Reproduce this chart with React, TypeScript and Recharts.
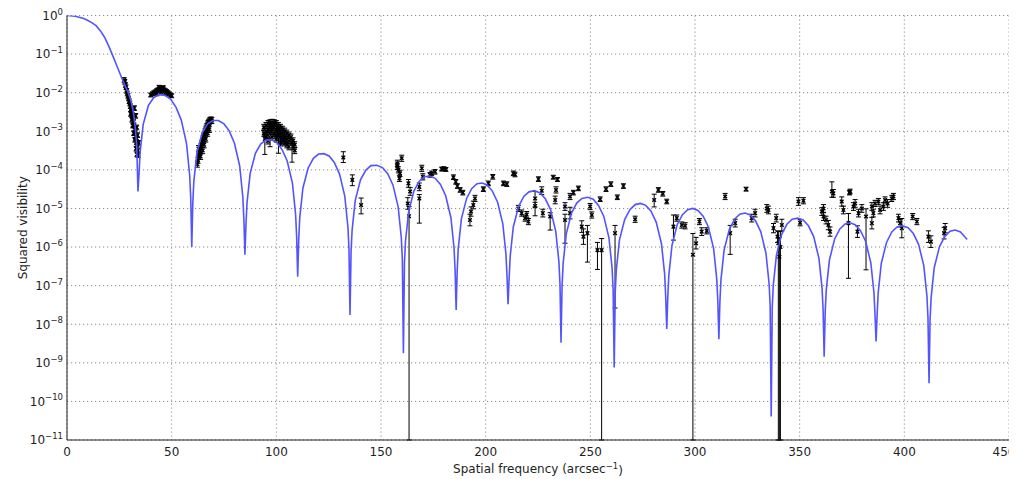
import React from 'react';
import { ScatterChart, Scatter, XAxis, YAxis, CartesianGrid, ErrorBar } from 'recharts';

// ---------- axes ----------
const xTicks = [0, 50, 100, 150, 200, 250, 300, 350, 400, 450];
const yTickExponents = [-11, -10, -9, -8, -7, -6, -5, -4, -3, -2, -1, 0];
const minorMantissas = [2, 3, 4, 5, 6, 7, 8, 9];
const xLabelMain = 'Spatial frequency (arcsec';
const xLabelSup = '\u22121';
const yLabelText = 'Squared visibility';

// ---------- model curve: [spatial frequency, log10(squared visibility)] ----------
const curveMainLobe = [[0,0],[4,-0.02],[8,-0.08],[10,-0.13],[12,-0.19],[14,-0.27],[16,-0.40],[18,-0.57],[20,-0.80],[22,-1.06],[24,-1.33],[26,-1.60],[28,-1.85],[29.3,-2.0],[30.5,-2.2],[31.7,-2.5],[32.5,-2.85],[33.3,-3.35],[33.9,-4.56]];
const curveLobes2to5 = [
  [34.4,-4.12],[34.9,-3.56],[36.4,-2.82],[38.9,-2.33],[41.4,-2.13],[43.9,-2.05],[46.75,-2.07],[49.6,-2.17],[52.1,-2.38],[54.6,-2.71],[57.1,-3.32],[58.6,-4.14],[59.1,-4.72],[59.6,-6.0],
  [60.1,-4.85],[60.6,-4.29],[62.1,-3.54],[64.6,-3.04],[67.1,-2.81],[69.6,-2.72],[72.3,-2.72],[75.0,-2.81],[77.5,-2.99],[80.0,-3.31],[82.5,-3.90],[84.0,-4.71],[84.5,-5.29],[85.0,-6.2],
  [85.5,-5.41],[86.0,-4.85],[87.5,-4.09],[90.0,-3.57],[92.5,-3.33],[95.0,-3.23],[97.6,-3.22],[100.2,-3.29],[102.7,-3.47],[105.2,-3.77],[107.7,-4.35],[109.2,-5.15],[109.7,-5.73],[110.2,-6.77],
  [110.7,-5.80],[111.2,-5.23],[112.7,-4.47],[115.2,-3.95],[117.7,-3.70],[120.2,-3.59],[122.7,-3.58],[125.2,-3.64],[127.7,-3.81],[130.2,-4.11],[132.7,-4.68],[134.2,-5.48],[134.7,-6.05],[135.2,-7.76],
];
const curveLobes6to9 = [
  [135.7,-6.12],[136.2,-5.56],[137.7,-4.79],[140.2,-4.26],[142.7,-4.01],[145.2,-3.89],[147.95,-3.88],[150.7,-3.94],[153.2,-4.10],[155.7,-4.39],[158.2,-4.96],[159.7,-5.76],[160.2,-6.33],[160.7,-8.75],
  [161.2,-6.42],[161.7,-5.85],[163.2,-5.09],[165.7,-4.55],[168.2,-4.30],[170.7,-4.18],[173.3,-4.16],[175.9,-4.22],[178.4,-4.38],[180.9,-4.67],[183.4,-5.24],[184.9,-6.03],[185.4,-6.60],[185.9,-7.63],
  [186.4,-6.61],[186.9,-6.04],[188.4,-5.27],[190.9,-4.74],[193.4,-4.48],[195.9,-4.36],[198.3,-4.34],[200.7,-4.39],[203.2,-4.55],[205.7,-4.84],[208.2,-5.40],[209.7,-6.19],[210.2,-6.76],[210.7,-7.48],
  [211.2,-6.82],[211.7,-6.25],[213.2,-5.48],[215.7,-4.95],[218.2,-4.69],[220.7,-4.57],[223.35,-4.54],[226.0,-4.60],[228.5,-4.75],[231.0,-5.03],[233.5,-5.60],[235.0,-6.39],[235.5,-6.96],[236.0,-8.48],
];
const curveLobes10to13 = [
  [236.5,-7.0],[237.0,-6.43],[238.5,-5.66],[241.0,-5.12],[243.5,-4.86],[246.0,-4.74],[248.7,-4.71],[251.4,-4.76],[253.9,-4.92],[256.4,-5.20],[258.9,-5.76],[260.4,-6.55],[260.9,-7.12],[261.4,-9.12],
  [261.9,-7.16],[262.4,-6.60],[263.9,-5.82],[266.4,-5.29],[268.9,-5.03],[271.4,-4.90],[273.95,-4.87],[276.5,-4.92],[279.0,-5.07],[281.5,-5.36],[284.0,-5.92],[285.5,-6.70],[286.0,-7.28],[286.5,-8.12],
  [287.0,-7.30],[287.5,-6.73],[289.0,-5.96],[291.5,-5.42],[294.0,-5.16],[296.5,-5.03],[298.95,-5.0],[301.4,-5.05],[303.9,-5.20],[306.4,-5.48],[308.9,-6.04],[310.4,-6.83],[310.9,-7.40],[311.4,-8.39],
  [311.9,-7.42],[312.4,-6.85],[313.9,-6.08],[316.4,-5.54],[318.9,-5.28],[321.4,-5.15],[323.9,-5.12],[326.4,-5.17],[328.9,-5.32],[331.4,-5.60],[333.9,-6.16],[335.4,-6.95],[335.9,-7.52],[336.4,-10.39],
];
const curveLobes14to17 = [
  [336.9,-7.56],[337.4,-6.99],[338.9,-6.21],[341.4,-5.67],[343.9,-5.41],[346.4,-5.28],[349.05,-5.25],[351.7,-5.30],[354.2,-5.45],[356.7,-5.73],[359.2,-6.29],[360.7,-7.07],[361.2,-7.64],[361.7,-8.84],
  [362.2,-7.68],[362.7,-7.11],[364.2,-6.34],[366.7,-5.79],[369.2,-5.53],[371.7,-5.40],[374.1,-5.37],[376.5,-5.42],[379.0,-5.57],[381.5,-5.85],[384.0,-6.41],[385.5,-7.19],[386.0,-7.76],[386.5,-8.45],
  [387.0,-7.76],[387.5,-7.19],[389.0,-6.42],[391.5,-5.88],[394.0,-5.61],[396.5,-5.48],[399.15,-5.45],[401.8,-5.50],[404.3,-5.65],[406.8,-5.93],[409.3,-6.48],[410.8,-7.27],[411.3,-7.84],[411.8,-9.53],
  [412.3,-7.87],[412.8,-7.31],[414.3,-6.53],[416.8,-5.99],[419.3,-5.73],[421.8,-5.59],[424.3,-5.56],[426.8,-5.61],[429.3,-5.76],[430.0,-5.80],
];

// ---------- measurements: [spatial frequency, log10(V2), error below (dex), error above (dex)] ----------
const obsFirstNull = [
  [27.3,-1.67,0.06,0.06],[27.6,-1.72,0.06,0.06],[27.9,-1.80,0.06,0.06],[28.2,-1.86,0.06,0.06],[28.5,-1.95,0.06,0.06],[28.8,-2.02,0.06,0.06],
  [29.1,-2.08,0.06,0.06],[29.4,-2.15,0.06,0.06],[29.7,-2.22,0.06,0.06],[30.0,-2.28,0.06,0.06],[30.3,-2.35,0.06,0.06],[30.6,-2.42,0.06,0.06],
  [30.4,-2.55,0.06,0.06],[30.9,-2.50,0.06,0.06],[31.2,-2.58,0.06,0.06],[31.0,-2.70,0.06,0.06],[31.5,-2.65,0.06,0.06],[31.8,-2.75,0.06,0.06],
  [31.4,-2.85,0.06,0.06],[32.0,-2.85,0.06,0.06],[32.3,-2.95,0.06,0.06],[31.9,-3.05,0.06,0.06],[32.6,-3.05,0.06,0.06],[32.9,-3.15,0.06,0.06],
  [32.4,-3.22,0.06,0.06],[33.2,-3.28,0.06,0.06],[33.5,-3.35,0.06,0.06],[33.0,-3.45,0.06,0.06],[33.8,-3.50,0.06,0.06],[33.4,-3.60,0.06,0.06],
  [34.0,-3.62,0.06,0.06],[32.8,-2.60,0.06,0.06],[33.3,-2.90,0.06,0.06],[33.7,-3.10,0.06,0.06],[34.2,-3.30,0.06,0.06],[32.2,-2.40,0.06,0.06],
];
const obsSecondLobe = [
  [40.0,-2.06,0.05,0.05],[40.8,-2.03,0.05,0.05],[41.5,-2.00,0.05,0.05],[42.2,-1.98,0.05,0.05],[42.8,-1.95,0.05,0.05],[43.4,-1.93,0.05,0.05],
  [44.0,-1.92,0.05,0.05],[44.6,-1.90,0.05,0.05],[45.2,-1.90,0.05,0.05],[45.8,-1.91,0.05,0.05],[46.4,-1.93,0.05,0.05],[47.0,-1.95,0.05,0.05],
  [47.6,-1.97,0.05,0.05],[48.2,-2.00,0.05,0.05],[48.8,-2.03,0.05,0.05],[49.5,-2.06,0.05,0.05],[50.0,-2.08,0.05,0.05],[43.0,-2.03,0.05,0.05],
  [45.0,-1.98,0.05,0.05],[47.0,-2.02,0.05,0.05],[44.0,-1.86,0.05,0.05],[46.0,-1.87,0.05,0.05],
];
const obsThirdLobe = [
  [62.3,-3.85,0.08,0.08],[62.6,-3.75,0.08,0.08],[62.9,-3.65,0.08,0.08],[63.2,-3.60,0.08,0.08],[63.5,-3.52,0.08,0.08],[63.8,-3.45,0.08,0.08],
  [64.1,-3.40,0.08,0.08],[64.4,-3.33,0.08,0.08],[64.7,-3.27,0.08,0.08],[65.0,-3.20,0.08,0.08],[65.3,-3.13,0.08,0.08],[65.6,-3.08,0.08,0.08],
  [65.9,-3.02,0.08,0.08],[66.2,-2.97,0.08,0.08],[66.5,-2.92,0.08,0.08],[66.8,-2.88,0.08,0.08],[67.1,-2.84,0.08,0.08],[67.4,-2.80,0.08,0.08],
  [67.7,-2.77,0.08,0.08],[68.0,-2.74,0.08,0.08],[68.4,-2.72,0.08,0.08],[68.8,-2.71,0.08,0.08],[69.2,-2.72,0.08,0.08],[63.8,-3.65,0.08,0.08],
  [64.8,-3.50,0.08,0.08],[65.5,-3.35,0.08,0.08],[66.3,-3.20,0.08,0.08],[67.2,-3.05,0.08,0.08],[68.0,-2.95,0.08,0.08],[62.8,-3.45,0.08,0.08],
];
const obsFourthLobe = [
  [94,-2.90,0.08,0.08],[94,-3.05,0.08,0.08],[94.5,-3.20,0.40,0.08],[95,-2.85,0.08,0.08],[95,-3.00,0.08,0.08],[95,-3.15,0.08,0.08],
  [96,-2.80,0.08,0.08],[96,-2.95,0.08,0.08],[96,-3.10,0.08,0.08],[96,-3.25,0.08,0.08],[97,-2.78,0.08,0.08],[97,-2.92,0.08,0.08],
  [97,-3.05,0.35,0.08],[98,-2.77,0.08,0.08],[98,-2.90,0.08,0.08],[98,-3.00,0.08,0.08],[98,-3.15,0.08,0.08],[99,-2.78,0.08,0.08],
  [99,-2.90,0.08,0.08],[99,-3.05,0.08,0.08],[100,-2.80,0.08,0.08],[100,-2.95,0.08,0.08],[100,-3.10,0.08,0.08],[100,-3.20,0.08,0.08],
  [101,-2.85,0.08,0.08],[101,-2.98,0.08,0.08],[101,-3.12,0.45,0.08],[102,-2.90,0.08,0.08],[102,-3.00,0.08,0.08],[102,-3.15,0.08,0.08],
  [102,-3.30,0.08,0.08],[103,-2.95,0.08,0.08],[103,-3.10,0.08,0.08],[103,-3.25,0.08,0.08],[104,-3.00,0.08,0.08],[104,-3.15,0.08,0.08],
  [104,-3.30,0.08,0.08],[105,-3.05,0.08,0.08],[105,-3.20,0.08,0.08],[105,-3.35,0.08,0.08],[106,-3.10,0.08,0.08],[106,-3.25,0.08,0.08],
  [106,-3.40,0.08,0.08],[107,-3.15,0.08,0.08],[107.5,-3.30,0.50,0.08],[108,-3.25,0.08,0.08],[108,-3.40,0.08,0.08],[108.8,-3.35,0.08,0.08],
  [108.8,-3.50,0.08,0.08],
];
const obsMidFrequencies = [
  [132.0,-3.68,0.13,0.15],[136.3,-4.26,0.15,0.13],[140.5,-4.91,0.23,0.18],
  [157.8,-3.83,0.08,0.08],[157.8,-3.91,0.08,0.08],[158.3,-4.00,0.08,0.08],[159.1,-4.09,0.08,0.08],[158.8,-4.22,0.08,0.08],[159.9,-3.70,0.08,0.08],
  [163.1,-4.35,0.10,0.10],[163.9,-4.56,0.10,0.10],[162.8,-4.87,0.15,0.15],[163.4,-5.20,5.80,0.25],
  [169.5,-3.96,0.08,0.08],[168.3,-4.44,0.10,0.10],[168.3,-4.74,0.64,0.10],[170.0,-4.18,0.08,0.08],
  [173.4,-4.13,0.06,0.06],[174.2,-4.09,0.06,0.06],[175.8,-4.05,0.06,0.06],
  [179.0,-3.98,0.05,0.05],[180.0,-3.97,0.05,0.05],[181.0,-3.99,0.05,0.05],
  [184.6,-4.19,0.06,0.06],[185.7,-4.31,0.06,0.06],[186.5,-4.42,0.06,0.06],[187.8,-4.52,0.06,0.06],[189.1,-4.59,0.06,0.06],
  [194.9,-4.74,0.08,0.08],[194.1,-4.91,0.10,0.10],[193.0,-5.08,0.12,0.12],[192.5,-5.30,0.15,0.15],
  [198.9,-4.50,0.06,0.06],[201.3,-4.35,0.06,0.06],[203.4,-4.18,0.06,0.06],
  [208.5,-4.35,0.06,0.06],[210.1,-4.37,0.06,0.06],[213.2,-4.09,0.06,0.06],[214.0,-4.12,0.06,0.06],
  [215.6,-5.00,0.08,0.08],[217.2,-5.12,0.08,0.08],[218.8,-5.25,0.08,0.08],[220.4,-5.34,0.08,0.08],[219.6,-5.16,0.08,0.08],
  [223.6,-4.74,0.22,0.18],[223.6,-4.94,0.25,0.10],[225.2,-4.24,0.06,0.06],[226.8,-4.54,0.10,0.10],[227.3,-5.12,0.10,0.10],[230.8,-5.21,0.35,0.10],
  [232.3,-4.19,0.05,0.05],[234.3,-4.25,0.05,0.05],[233.6,-4.52,0.08,0.08],[233.2,-4.78,0.10,0.10],
  [237.9,-4.95,0.10,0.10],[237.9,-5.30,0.60,0.15],[240.3,-4.69,0.08,0.08],[240.3,-5.12,0.15,0.15],[241.9,-4.59,0.06,0.06],[244.3,-4.48,0.06,0.06],
  [245.9,-5.47,0.15,0.15],[248.6,-5.64,0.75,0.20],[246.7,-5.73,0.20,0.20],[249.9,-4.95,0.08,0.08],[250.7,-5.17,0.08,0.08],
  [253.4,-6.08,0.50,0.20],[255.4,-6.08,4.92,0.30],[254.7,-4.76,0.06,0.06],[257.5,-4.50,0.06,0.06],[259.8,-4.37,0.06,0.06],
];
const obsHighFrequencies = [
  [262.9,-4.71,0.06,0.06],[265.8,-4.42,0.06,0.06],[261.8,-5.64,1.94,0.20],[271.4,-5.28,0.08,0.08],
  [280.5,-4.78,0.18,0.15],[282.5,-4.52,0.06,0.06],[284.6,-4.62,0.06,0.06],[286.5,-4.82,0.06,0.06],
  [289.7,-5.47,0.35,0.30],[291.3,-5.25,0.08,0.08],[293.7,-5.43,0.08,0.08],[295.3,-5.45,0.08,0.08],
  [299.0,-6.20,4.80,0.55],[300.5,-5.90,0.15,0.15],[302.1,-5.34,0.08,0.08],[303.2,-5.60,0.10,0.10],[305.6,-5.58,0.08,0.08],
  [314.4,-4.69,0.08,0.08],[316.8,-5.64,0.55,0.20],[319.2,-5.38,0.10,0.10],[324.4,-4.50,0.05,0.05],[327.1,-5.25,0.10,0.10],[328.7,-5.12,0.10,0.10],
  [334.3,-5.00,0.10,0.10],[335.1,-5.04,0.10,0.10],[337.5,-5.51,0.12,0.12],[338.8,-5.25,0.10,0.10],[339.4,-5.73,0.15,0.15],
  [339.8,-5.90,5.10,0.30],[340.3,-6.25,4.75,0.50],[340.8,-6.00,5.00,0.40],[341.5,-5.43,0.15,0.15],
  [349.4,-4.82,0.10,0.10],[351.8,-4.80,0.08,0.08],[350.2,-5.37,0.08,0.08],
  [360.6,-5.08,0.10,0.10],[361.4,-5.21,0.10,0.10],[362.6,-5.30,0.10,0.10],[363.7,-5.43,0.12,0.12],[364.5,-5.60,0.12,0.12],[361.4,-5.00,0.10,0.10],
  [365.4,-4.56,0.15,0.25],[366.1,-4.61,0.10,0.10],[370.1,-4.82,0.12,0.12],[370.9,-5.04,0.10,0.10],[373.8,-4.59,0.06,0.06],[374.1,-4.56,0.06,0.06],
  [373.3,-5.38,1.43,0.25],[375.7,-4.95,0.10,0.10],[376.5,-4.87,0.10,0.10],[377.6,-5.60,0.15,0.15],[378.1,-5.12,0.10,0.10],
  [381.7,-5.21,1.38,0.20],[379.7,-5.00,0.10,0.10],[384.5,-5.38,0.15,0.15],[384.5,-4.95,0.10,0.10],[385.2,-5.12,0.10,0.10],
  [386.0,-4.87,0.08,0.08],[387.6,-4.82,0.08,0.08],[388.4,-5.04,0.10,0.10],[390.0,-4.95,0.10,0.10],[390.8,-4.78,0.08,0.08],[392.0,-4.87,0.10,0.10],
  [394.0,-4.74,0.08,0.08],[394.8,-4.69,0.08,0.08],
  [397.2,-5.25,0.10,0.10],[398.0,-5.38,0.10,0.10],[398.8,-5.51,0.25,0.25],[404.0,-5.21,0.08,0.08],[406.0,-5.34,0.08,0.08],
  [411.5,-5.73,0.15,0.15],[412.7,-5.86,0.15,0.15],[419.5,-5.51,0.12,0.12],[419.0,-5.64,0.15,0.15],
];

// ---------- build tables for Recharts ----------
const yTicks = yTickExponents.map((e) => Math.pow(10, e));
const yMinorTicks: number[] = [];
yTickExponents.slice(0, -1).forEach((e) => minorMantissas.forEach((m) => yMinorTicks.push(m * Math.pow(10, e))));

const curveData = [...curveMainLobe, ...curveLobes2to5, ...curveLobes6to9, ...curveLobes10to13, ...curveLobes14to17].map(
  ([x, e]) => ({ x, y: Math.pow(10, e) })
);
const obsData = [...obsFirstNull, ...obsSecondLobe, ...obsThirdLobe, ...obsFourthLobe, ...obsMidFrequencies, ...obsHighFrequencies].map(
  ([x, e, dLo, dHi]) => {
    const y = Math.pow(10, e);
    return { x, y, err: [y - Math.pow(10, e - dLo), Math.pow(10, e + dHi) - y] };
  }
);

const FONT = 'DejaVu Sans, Bitstream Vera Sans, sans-serif';
const INK = '#1e1e1e';
const lastXTick = xTicks[xTicks.length - 1];

const XTick = (props: any) => {
  const { x, y, payload } = props;
  // keep the right-most label inside the page edge
  const shift = payload.value === lastXTick ? -5 : 0;
  return (
    <text x={x + shift} y={y} dy="0.71em" textAnchor="middle" fill={INK} fontSize={12} fontFamily={FONT}>
      {payload.value}
    </text>
  );
};

const YTick = (props: any) => {
  const { x, y, payload } = props;
  const exp = Math.round(Math.log10(payload.value));
  const sup = exp < 0 ? '\u2212' + String(-exp) : String(exp);
  return (
    <text x={x} y={y} textAnchor="end" fill={INK} fontSize={12} fontFamily={FONT}>
      <tspan dy="0.36em">10</tspan>
      <tspan dy="-0.62em" fontSize={8.5}>{sup}</tspan>
    </text>
  );
};

const renderXLabel = (props: any) => {
  const vb = props.viewBox || {};
  return (
    <text x={vb.x + vb.width / 2} y={vb.y + vb.height - 6} textAnchor="middle" fill={INK} fontSize={12} fontFamily={FONT}>
      {xLabelMain}
      <tspan dy="-0.45em" fontSize={8.5}>{xLabelSup}</tspan>
      <tspan dy="0.45em">)</tspan>
    </text>
  );
};

const renderYLabel = (props: any) => {
  const vb = props.viewBox || {};
  const cx = vb.x + 10;
  const cy = vb.y + vb.height / 2;
  return (
    <text x={cx} y={cy} transform={`rotate(-90 ${cx} ${cy})`} textAnchor="middle" fill={INK} fontSize={12} fontFamily={FONT}>
      {yLabelText}
    </text>
  );
};

const XMark = (props: any) => {
  const { cx, cy } = props;
  if (cx == null || cy == null) return <g />;
  const s = 1.8;
  return (
    <path
      d={`M${cx - s},${cy - s}L${cx + s},${cy + s}M${cx - s},${cy + s}L${cx + s},${cy - s}`}
      stroke="#000"
      strokeWidth={1.4}
      fill="none"
    />
  );
};

const NoMark = () => <g />;

export default function App() {
  const axisStroke = { stroke: INK, strokeWidth: 1 };
  return (
    <div style={{ width: 1009, height: 471, background: '#ffffff' }}>
      <ScatterChart width={1009} height={471} margin={{ top: 7.5, right: 8, bottom: 0, left: 9 }}>
        <CartesianGrid stroke="#8a8a8a" strokeDasharray="1.2 2.8" strokeWidth={1} />
        <XAxis
          type="number"
          dataKey="x"
          domain={[0, 450]}
          ticks={xTicks}
          interval={0}
          allowDataOverflow
          height={39}
          tickLine={false}
          tickSize={5}
          tickMargin={2}
          axisLine={axisStroke}
          tick={XTick}
          label={renderXLabel}
        />
        <XAxis xAxisId="bm" type="number" dataKey="x" domain={[0, 450]} ticks={xTicks} interval={0} allowDataOverflow orientation="bottom" mirror height={0} tick={false} tickSize={4} axisLine={false} tickLine={axisStroke} />
        <XAxis xAxisId="tm" type="number" dataKey="x" domain={[0, 450]} ticks={xTicks} interval={0} allowDataOverflow orientation="top" mirror height={0} tick={false} tickSize={4} axisLine={axisStroke} tickLine={axisStroke} />
        <YAxis
          type="number"
          dataKey="y"
          scale="log"
          domain={[1e-11, 1]}
          ticks={yTicks}
          interval={0}
          allowDataOverflow
          width={50}
          tickLine={false}
          tickSize={2}
          tickMargin={2}
          axisLine={axisStroke}
          tick={YTick}
          label={renderYLabel}
        />
        <YAxis yAxisId="lm" type="number" dataKey="y" scale="log" domain={[1e-11, 1]} ticks={yTicks} interval={0} allowDataOverflow orientation="left" mirror width={0} tick={false} tickSize={4} axisLine={false} tickLine={axisStroke} />
        <YAxis yAxisId="ln" type="number" dataKey="y" scale="log" domain={[1e-11, 1]} ticks={yMinorTicks} interval={0} allowDataOverflow orientation="left" mirror width={0} tick={false} tickSize={2} axisLine={false} tickLine={axisStroke} />
        <YAxis yAxisId="rm" type="number" dataKey="y" scale="log" domain={[1e-11, 1]} ticks={yTicks} interval={0} allowDataOverflow orientation="right" mirror width={0} tick={false} tickSize={4} axisLine={axisStroke} tickLine={axisStroke} />
        <YAxis yAxisId="rn" type="number" dataKey="y" scale="log" domain={[1e-11, 1]} ticks={yMinorTicks} interval={0} allowDataOverflow orientation="right" mirror width={0} tick={false} tickSize={2} axisLine={false} tickLine={axisStroke} />
        <Scatter data={obsData} shape={XMark} isAnimationActive={false}>
          <ErrorBar dataKey="err" direction="y" width={2.5} stroke="#000" strokeWidth={1} />
        </Scatter>
        <Scatter
          data={curveData}
          line={{ stroke: '#5454ff', strokeWidth: 1.6 }}
          lineType="joint"
          shape={NoMark}
          isAnimationActive={false}
        />
      </ScatterChart>
    </div>
  );
}
